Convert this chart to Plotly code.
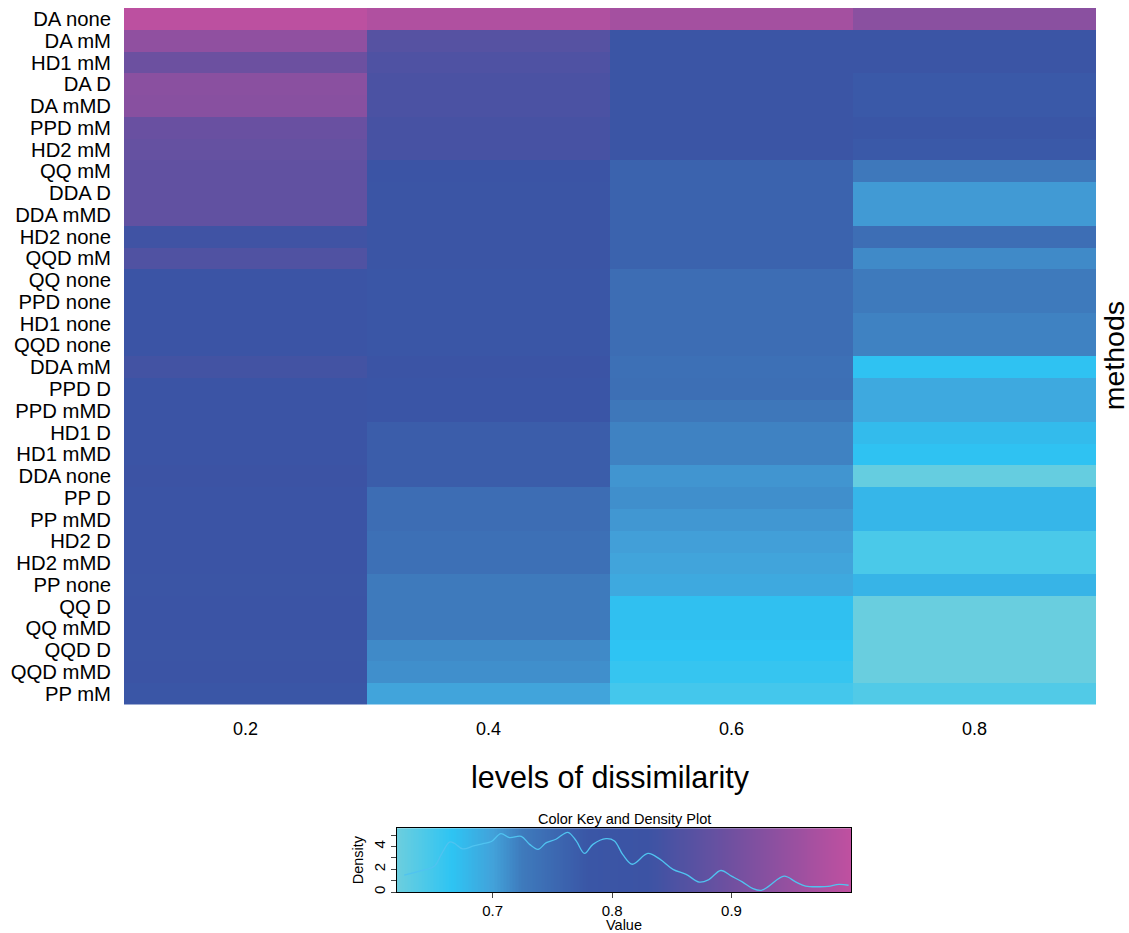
import numpy as np
import plotly.graph_objects as go

methods = ["DA none", "DA mM", "HD1 mM", "DA D", "DA mMD", "PPD mM", "HD2 mM", "QQ mM",
           "DDA D", "DDA mMD", "HD2 none", "QQD mM", "QQ none", "PPD none", "HD1 none",
           "QQD none", "DDA mM", "PPD D", "PPD mMD", "HD1 D", "HD1 mMD", "DDA none",
           "PP D", "PP mMD", "HD2 D", "HD2 mMD", "PP none", "QQ D", "QQ mMD", "QQD D",
           "QQD mMD", "PP mM"]
levels = ["0.2", "0.4", "0.6", "0.8"]

lvl_02 = [0.995, 0.94, 0.895, 0.932, 0.93, 0.89, 0.885, 0.88, 0.88, 0.88, 0.835, 0.857,
          0.81, 0.81, 0.81, 0.81, 0.84, 0.815, 0.815, 0.815, 0.815, 0.83, 0.81, 0.81,
          0.81, 0.81, 0.805, 0.81, 0.81, 0.805, 0.81, 0.78]
lvl_04 = [0.98, 0.865, 0.855, 0.85, 0.85, 0.845, 0.845, 0.81, 0.805, 0.805, 0.805, 0.805,
          0.78, 0.78, 0.78, 0.78, 0.81, 0.79, 0.79, 0.77, 0.77, 0.77, 0.745, 0.745,
          0.74, 0.74, 0.725, 0.725, 0.725, 0.715, 0.712, 0.698]
lvl_06 = [0.965, 0.805, 0.805, 0.805, 0.805, 0.805, 0.805, 0.76, 0.76, 0.76, 0.76, 0.76,
          0.745, 0.745, 0.745, 0.745, 0.74, 0.742, 0.73, 0.72, 0.72, 0.708, 0.712, 0.707,
          0.702, 0.698, 0.693, 0.67, 0.67, 0.666, 0.66, 0.65]
lvl_08 = [0.932, 0.805, 0.805, 0.775, 0.775, 0.785, 0.775, 0.728, 0.705, 0.705, 0.743, 0.715,
          0.725, 0.725, 0.72, 0.72, 0.668, 0.693, 0.693, 0.675, 0.668, 0.625, 0.68, 0.68,
          0.645, 0.645, 0.682, 0.622, 0.622, 0.622, 0.622, 0.64]

# density curve
dens_x = [0.626, 0.639, 0.6515, 0.657, 0.664, 0.668, 0.675, 0.684, 0.692, 0.699, 0.707,
          0.714, 0.724, 0.731, 0.738, 0.745, 0.753, 0.763, 0.770, 0.777, 0.784, 0.795,
          0.802, 0.809, 0.817, 0.830, 0.840, 0.851, 0.862, 0.873, 0.881, 0.891, 0.900,
          0.909, 0.918, 0.925, 0.931, 0.944, 0.954, 0.962, 0.973, 0.981, 0.990, 0.998]
dens_y = [1.5, 1.85, 2.3, 3.3, 4.4, 4.3, 3.8, 4.06, 4.26, 4.45, 5.15, 4.8, 4.9, 4.2, 3.76,
          4.35, 4.65, 5.26, 4.5, 3.4, 4.2, 4.7, 4.5, 3.3, 2.45, 3.4, 2.9, 2.0, 1.56, 0.88,
          1.1, 1.9, 1.4, 0.9, 0.3, 0.15, 0.5, 1.4, 0.88, 0.53, 0.47, 0.5, 0.68, 0.6]

ZMIN, ZMAX = 0.62, 1.0
stops = [(0.62, "rgb(108,206,222)"), (0.666, "rgb(46,196,243)"),
         (0.70, "rgb(66,162,218)"), (0.725, "rgb(62,122,188)"),
         (0.78, "rgb(58,86,166)"), (0.83, "rgb(60,83,164)"),
         (0.90, "rgb(112,80,160)"), (1.0, "rgb(192,80,160)")]
colorscale = [[(v - ZMIN) / (ZMAX - ZMIN), c] for v, c in stops]

z = [list(r) for r in zip(lvl_02, lvl_04, lvl_06, lvl_08)]

FONT = "Liberation Sans, Arial, Helvetica, sans-serif"
W, H = 1129, 933

fig = go.Figure()
fig.add_trace(go.Heatmap(z=z, x=levels, y=methods, colorscale=colorscale,
                         zmin=ZMIN, zmax=ZMAX, showscale=False,
                         xaxis="x", yaxis="y"))

# colour key
key_x = np.linspace(ZMIN, ZMAX, 300)
fig.add_trace(go.Heatmap(z=[key_x, key_x], x=key_x, y=[0, 5.62], colorscale=colorscale,
                         zmin=ZMIN, zmax=ZMAX, showscale=False,
                         xaxis="x2", yaxis="y2", hoverinfo="skip"))
fig.add_trace(go.Scatter(x=dens_x, y=dens_y, mode="lines", line_shape="spline",
                         line=dict(color="rgb(80,195,240)", width=1.3),
                         xaxis="x2", yaxis="y2", showlegend=False))

def px_x(p):
    return p / W

def px_y(p):
    return 1 - p / H

fig.update_layout(
    width=W, height=H, margin=dict(l=0, r=0, t=0, b=0),
    paper_bgcolor="white", plot_bgcolor="white",
    font=dict(family=FONT, color="black"),
    showlegend=False,
    xaxis=dict(domain=[px_x(124), px_x(1096)], anchor="y", type="category",
               showgrid=False, zeroline=False, ticks="", tickfont=dict(size=18),
               ticklabelstandoff=12,
               title=dict(text="levels of dissimilarity", font=dict(size=30.5), standoff=28)),
    yaxis=dict(domain=[px_y(706), px_y(8)], anchor="x", type="category",
               autorange="reversed", showgrid=False, zeroline=False, ticks="",
               tickmode="array", tickvals=methods,
               tickfont=dict(size=20.3), ticklabelstandoff=12),
    xaxis2=dict(domain=[px_x(397), px_x(851)], anchor="y2", range=[ZMIN, ZMAX],
                tickvals=[0.7, 0.8, 0.9], ticks="outside", ticklen=5,
                showline=True, linecolor="black", linewidth=1, mirror=True,
                showgrid=False, zeroline=False, tickfont=dict(size=15),
                title=dict(text="Value", font=dict(size=14.5), standoff=0)),
    yaxis2=dict(domain=[px_y(894), px_y(830)], anchor="x2", range=[0, 5.62],
                tickvals=[0, 1, 2, 3, 4, 5], ticktext=["0", "", "2", "", "4", ""],
                ticks="outside", ticklen=5, tickangle=-90,
                showline=True, linecolor="black", linewidth=1, mirror=True,
                showgrid=False, zeroline=False, tickfont=dict(size=15),
                title=dict(text="Density", font=dict(size=14.5), standoff=3)),
    annotations=[
        dict(text="methods", x=px_x(1114), y=px_y(357), xref="paper", yref="paper",
             textangle=-90, showarrow=False, font=dict(size=28.5),
             xanchor="center", yanchor="middle"),
        dict(text="Color Key and Density Plot", x=px_x(624), y=px_y(821),
             xref="paper", yref="paper", showarrow=False, font=dict(size=14.5),
             xanchor="center", yanchor="middle"),
    ],
)

fig.write_html("out.html")
